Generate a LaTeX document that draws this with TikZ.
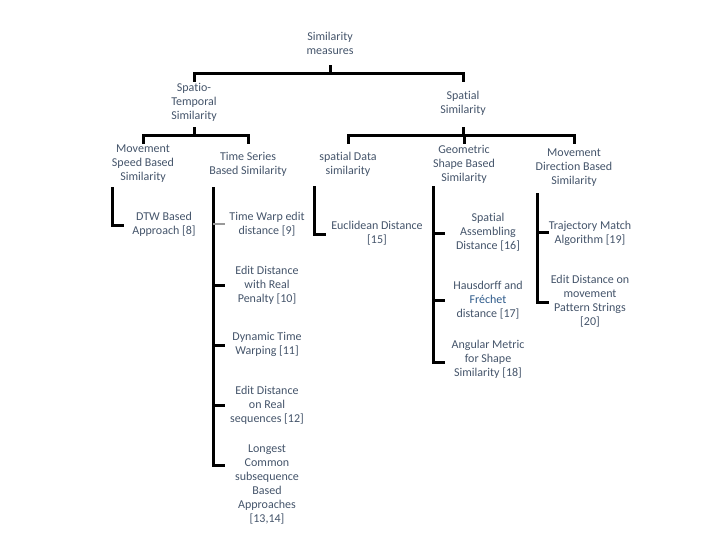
\documentclass[tikz,border=0pt]{standalone}
\usepackage{fontspec}
\setmainfont{Carlito}[Ligatures={NoCommon}]
\definecolor{txtgray}{HTML}{44546A}
\definecolor{frechetblue}{HTML}{2E5A8A}
\tikzset{
    lbl/.style={text=txtgray, align=center, inner sep=0pt, font=\fontsize{12}{14}\selectfont},
    tree/.style={line width=3pt, line join=miter},
    faint/.style={line width=1.2pt, gray!80}
}
% stem under a parent, a bar, and drops to the children
\newcommand{\branch}[3]{
    \coordinate (tmp) at (0,#2);
    \coordinate (#1-bar) at (#1 |- tmp);
    \draw[tree] ([yshift=8pt]#1-bar) -- (#1-bar);
    \foreach \c in {#3} {
        \draw[tree] (#1-bar) -| ([yshift=-8.5pt]#1-bar -| \c);
    }
}
% spine under a node with ticks to its leaves
\newcommand{\rake}[4]{
    \coordinate (#1-spine) at (#2,#3);
    \foreach \y in {#4} {
        \draw[tree] (#1-spine) |- ++(12,\y-#3);
    }
}

\begin{document}
\begin{tikzpicture}[x=1pt,y=-1pt]
    \useasboundingbox (0,0) rectangle (714,538);

    %% Top levels
    \node[lbl] (root) at (330,43) {Similarity\\measures};
    \node[lbl] (st) at (194,102) {Spatio-\\Temporal\\Similarity};
    \node[lbl] (sp) at (463,103.5) {Spatial\\Similarity};

    % categories
    \node[lbl] (ms) at (143,164) {Movement\\Speed Based\\Similarity};
    \node[lbl] (ts) at (248,164) {Time Series\\Based Similarity};
    \node[lbl] (sd) at (348,164) {spatial Data\\similarity};
    \node[lbl] (gs) at (464,164) {Geometric\\Shape Based\\Similarity};
    \node[lbl] (md) at (574,168) {Movement\\Direction Based\\Similarity};

    % leaves
    \node[lbl] (dtw) at (164,224) {DTW Based\\Approach [8]};
    \node[lbl] (tw) at (267,224) {Time Warp edit\\distance [9]};
    \node[lbl] (edrp) at (267,285) {Edit Distance\\with Real\\Penalty [10]};
    \node[lbl] (dtwarp) at (267,344.5) {Dynamic Time\\Warping [11]};
    \node[lbl] (edr) at (267,405) {Edit Distance\\on Real\\sequences [12]};
    \node[lbl] (lcs) at (267,484.5) {Longest\\Common\\subsequence\\Based\\Approaches\\{[13,14]}};
    \node[lbl] (eu) at (377,233) {Euclidean Distance\\{[15]}};
    \node[lbl] (sa) at (488,232) {Spatial\\Assembling\\Distance [16]};
    \node[lbl] (hf) at (488,300) {Hausdorff and\\{\color{frechetblue}Fréchet}\\distance [17]};
    \node[lbl] (am) at (488,359) {Angular Metric\\for Shape\\Similarity [18]};
    \node[lbl] (tm) at (590,233) {Trajectory Match\\Algorithm [19]};
    \node[lbl] (edm) at (590,301.5) {Edit Distance on\\movement\\Pattern Strings\\{[20]}};

    %% Connectors
    \branch{root}{73}{st, sp}
    \branch{st}{135}{ms, ts}
    \branch{sp}{135}{sd, gs, md}

    \rake{ms}{112}{187}{225}
    \rake{ts}{213}{187}{285, 345, 405, 465}
    \draw[faint] (ts-spine |- tw) -- ++(12,0);
    \rake{sd}{314}{186}{234}
    \rake{gs}{433}{186}{233, 300, 362}
    \rake{md}{537}{193}{232, 302}

\end{tikzpicture}
\end{document}
